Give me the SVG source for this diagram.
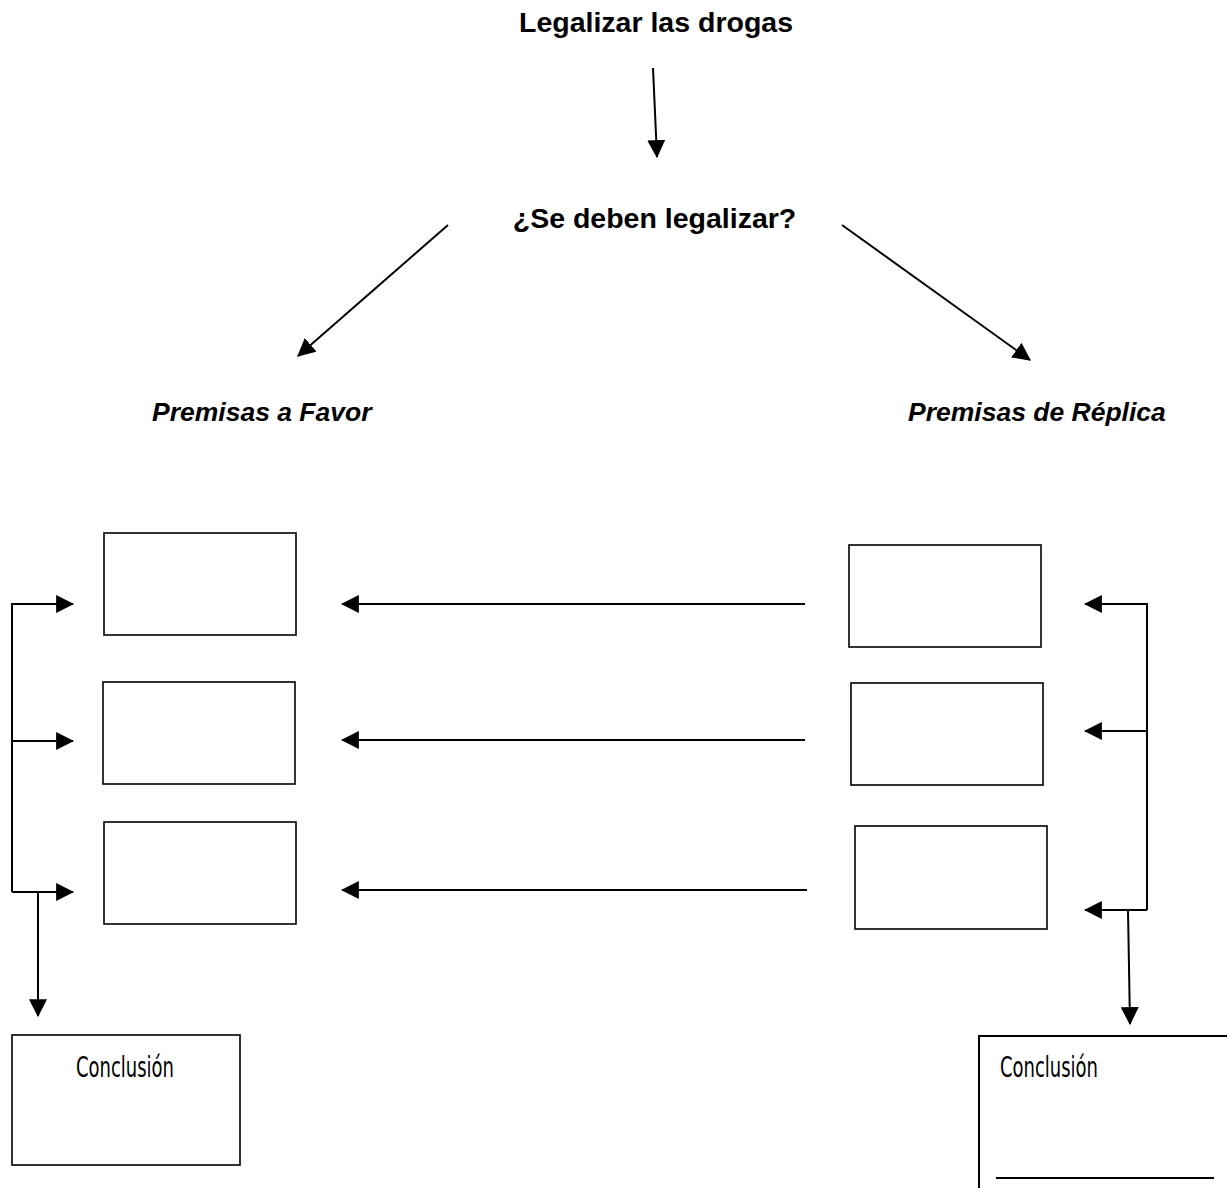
<svg xmlns="http://www.w3.org/2000/svg" width="1227" height="1188" viewBox="0 0 1227 1188">
<style>
.bg{fill:#fff}
.box{fill:#fff;stroke:#000;stroke-width:1.6}
.ln{fill:none;stroke:#000;stroke-width:2}
.ttl{font-family:"Liberation Sans",Arial,sans-serif;font-weight:bold;font-size:28.5px;fill:#000}
.prem{font-family:"Liberation Sans",Arial,sans-serif;font-weight:bold;font-style:italic;font-size:26.5px;fill:#000}
.conc{font-family:"Liberation Sans Narrow","DejaVu Sans Condensed",sans-serif;font-size:28px;fill:#000}
</style>
<defs>
<marker id="ah" markerUnits="userSpaceOnUse" markerWidth="18" markerHeight="18" viewBox="0 0 16 16" refX="15" refY="8" orient="auto">
<path d="M0,0 L16,8 L0,16 Z" fill="#000"/>
</marker>
</defs>
<rect class="bg" x="0" y="0" width="1227" height="1188"/>

<g id="title"><text class="ttl" x="656" y="32" text-anchor="middle">Legalizar las drogas</text></g>
<g id="question"><text class="ttl" x="654.5" y="228" text-anchor="middle">¿Se deben legalizar?</text></g>
<g id="favor"><text class="prem" x="152" y="421">Premisas a Favor</text></g>
<g id="replica"><text class="prem" x="908" y="421">Premisas de Réplica</text></g>

<g id="left-box-1"><rect class="box" x="104" y="533" width="192" height="102"/></g>
<g id="left-box-2"><rect class="box" x="103" y="682" width="192" height="102"/></g>
<g id="left-box-3"><rect class="box" x="104" y="822" width="192" height="102"/></g>
<g id="right-box-1"><rect class="box" x="849" y="545" width="192" height="102"/></g>
<g id="right-box-2"><rect class="box" x="851" y="683" width="192" height="102"/></g>
<g id="right-box-3"><rect class="box" x="855" y="826" width="192" height="103"/></g>

<g id="left-conclusion">
<rect class="box" x="12" y="1035" width="228" height="130"/>
<text class="conc" x="125" y="1077" text-anchor="middle" textLength="98" lengthAdjust="spacingAndGlyphs">Conclusión</text>
</g>
<g id="right-conclusion">
<path class="ln" d="M979,1188 L979,1036 L1227,1036"/>
<line class="ln" x1="996" y1="1178" x2="1214" y2="1178"/>
<text class="conc" x="1000" y="1077" textLength="98" lengthAdjust="spacingAndGlyphs">Conclusión</text>
</g>

<g id="connectors">
<line class="ln" x1="653" y1="68" x2="657" y2="157" marker-end="url(#ah)"/>
<line class="ln" x1="448" y1="225" x2="298" y2="356" marker-end="url(#ah)"/>
<line class="ln" x1="842" y1="225" x2="1030" y2="360" marker-end="url(#ah)"/>

<line class="ln" x1="805" y1="604" x2="342" y2="604" marker-end="url(#ah)"/>
<line class="ln" x1="805" y1="740" x2="342" y2="740" marker-end="url(#ah)"/>
<line class="ln" x1="807" y1="890" x2="342" y2="890" marker-end="url(#ah)"/>

<path class="ln" d="M12,892 L12,604 L73,604" marker-end="url(#ah)"/>
<line class="ln" x1="12" y1="741" x2="73" y2="741" marker-end="url(#ah)"/>
<line class="ln" x1="12" y1="892" x2="73" y2="892" marker-end="url(#ah)"/>
<line class="ln" x1="38" y1="892" x2="38" y2="1016" marker-end="url(#ah)"/>

<path class="ln" d="M1147,910 L1147,604 L1085,604" marker-end="url(#ah)"/>
<line class="ln" x1="1147" y1="731" x2="1085" y2="731" marker-end="url(#ah)"/>
<line class="ln" x1="1147" y1="910" x2="1085" y2="910" marker-end="url(#ah)"/>
<line class="ln" x1="1128" y1="910" x2="1130" y2="1024" marker-end="url(#ah)"/>
</g>
</svg>
